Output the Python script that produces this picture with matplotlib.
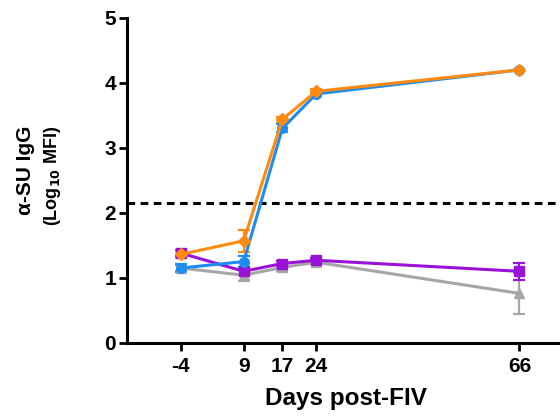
import matplotlib
matplotlib.use("Agg")
import matplotlib.pyplot as plt

plt.rcParams['font.family'] = ['Liberation Sans', 'DejaVu Sans']
plt.rcParams['font.weight'] = 'bold'

# Data
days = [-4, 9, 17, 24, 66]

gray_mean = [1.15, 1.04, 1.16, 1.24, 0.76]
gray_err = [0.05, 0.09, 0.05, 0.03, 0.31]

purple_mean = [1.38, 1.10, 1.22, 1.27, 1.10]
purple_err = [0.05, 0.06, 0.04, 0.03, 0.13]

blue_mean = [1.15, 1.25, 3.30, 3.83, 4.20]
blue_err = [0.06, 0.08, 0.06, 0.03, 0.02]

orange_mean = [1.36, 1.57, 3.44, 3.87, 4.20]
orange_err = [0.06, 0.17, 0.04, 0.03, 0.02]

threshold = 2.145

series = [
    (gray_mean, gray_err, '#A6A6A6', '^'),
    (purple_mean, purple_err, '#9A12D6', 's'),
    (blue_mean, blue_err, '#1E8CF0', 'o'),
    (orange_mean, orange_err, '#FF8A12', 'D'),
]

fig = plt.figure(figsize=(5.6, 4.16), dpi=100)
ax = fig.add_axes([0.227, 0.176, 0.78, 0.781])

for mean, err, color, marker in series:
    ax.errorbar(days, mean, yerr=err, color=color, marker=marker,
                markersize=7 if marker != 'D' else 6, linewidth=2.2,
                elinewidth=1.6, capsize=4, capthick=1.6, clip_on=False)

ax.axhline(threshold, color='black', linestyle=(0, (2.5, 1.8)), linewidth=2.2)

ax.set_xlim(-15.1, 75.2)
ax.set_ylim(0, 5)
ax.set_xticks(days)
ax.set_xticklabels([str(d) for d in days])
ax.set_yticks(range(6))

for side in ['top', 'right']:
    ax.spines[side].set_visible(False)
for side in ['left', 'bottom']:
    ax.spines[side].set_linewidth(2.2)
ax.tick_params(axis='both', width=2, length=6, labelsize=15)
ax.tick_params(axis='y', pad=2)
ax.tick_params(axis='x', pad=4)

ax.set_xlabel('Days post-FIV', fontsize=17.5, fontweight='bold', labelpad=8)

fig.text(0.045, 0.59, '\u03b1-SU IgG', rotation=90, fontsize=15,
         fontweight='bold', ha='center', va='center')
fig.text(0.094, 0.577, '(Log$_{\\mathbf{10}}$ MFI)', rotation=90, fontsize=13,
         fontweight='bold', ha='center', va='center')

fig.savefig('out.png', dpi=100)
